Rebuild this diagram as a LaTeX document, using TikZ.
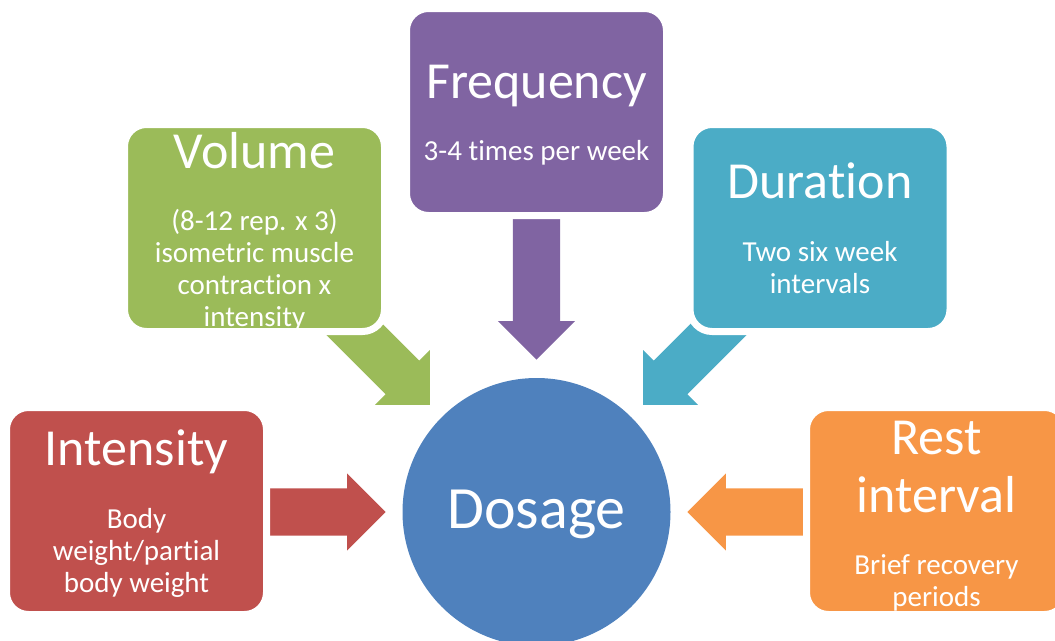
\documentclass[tikz,border=0pt]{standalone}
\usepackage{fontspec}
\setmainfont{Carlito}[Ligatures=NoCommon]
\usetikzlibrary{shapes.arrows}

\definecolor{dosblue}{HTML}{4F81BD}
\definecolor{intred}{HTML}{C0504D}
\definecolor{volgreen}{HTML}{9BBB59}
\definecolor{freqpurple}{HTML}{8064A2}
\definecolor{durteal}{HTML}{4BACC6}
\definecolor{restorange}{HTML}{F79646}

\tikzset{
  factor/.style={rectangle, rounded corners=22pt, draw=white, line width=7pt,
    minimum width=260pt, minimum height=207pt, inner sep=0pt},
  bigarrow/.style={single arrow, single arrow head extend=15pt,
    single arrow tip angle=90, inner xsep=0pt, inner ysep=23.5pt, anchor=tip},
  title/.style={text=white, font=\fontsize{52}{58}\selectfont, align=center, anchor=base},
  body/.style={text=white, font=\fontsize{29}{32}\selectfont, align=center, anchor=base},
}

\begin{document}
\begin{tikzpicture}[x=1pt, y=-1pt]
  \clip (0,0) rectangle (1055,640);

  % arrows into the centre
  \node[bigarrow, fill=freqpurple, rotate=-90, minimum height=142pt] (freqarrow) at (536.5,360) {};
  \node[bigarrow, fill=volgreen, rotate=-45, minimum height=128pt] (volarrow) at (430,405) {};
  \node[bigarrow, fill=durteal, rotate=-135, minimum height=128pt] (durarrow) at (643,405) {};
  \node[bigarrow, fill=intred, minimum height=118pt] (intarrow) at (386,512) {};
  \node[bigarrow, fill=restorange, rotate=180, minimum height=118pt] (restarrow) at (687,512) {};

  % factor boxes
  \node[factor, fill=freqpurple] (freq) at (536.5,112) {};
  \node[factor, fill=volgreen] (vol) at (254.5,228) {};
  \node[factor, fill=durteal] (dur) at (820,228) {};
  \node[factor, fill=intred] (int) at (136.5,511) {};
  \node[factor, fill=restorange] (rest) at (936.5,511) {};

  \node[circle, fill=dosblue, minimum size=268pt, inner sep=0pt] (dosage) at (536.5,512) {};
  \node[title, font=\fontsize{60}{66}\selectfont] (dosagetext) at (536.5,528) {Dosage};

  % texts (base = last line)
  \node[title] (freqtitle) at (536.5,98) {Frequency};
  \node[body] (freqbody) at (536.5,160) {3-4 times per week};
  \node[title] (voltitle) at (254.5,168) {Volume};
  \node[body] (volbody) at (254.5,326) {(8-12 rep. x 3)\\isometric muscle\\contraction x\\intensity};
  \node[title] (durtitle) at (820,198) {Duration};
  \node[body] (durbody) at (820,293) {Two six week\\intervals};
  \node[title] (inttitle) at (136.5,465) {Intensity};
  \node[body] (intbody) at (136.5,592) {Body\\weight/partial\\body weight};
  \node[title] (resttitle) at (936.5,512) {Rest\\interval};
  \node[body] (restbody) at (936.5,606) {Brief recovery\\periods};
\end{tikzpicture}
\end{document}
